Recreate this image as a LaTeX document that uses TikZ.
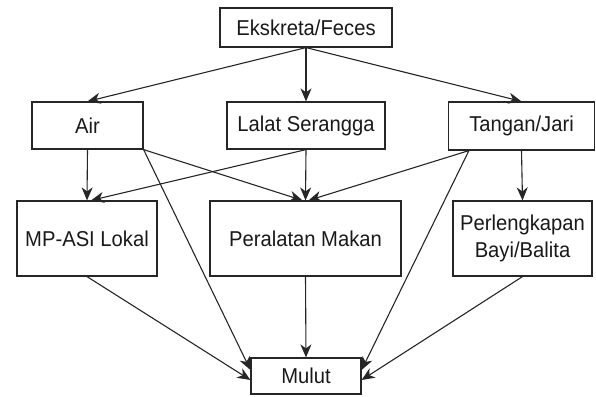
\documentclass[tikz,border=0pt]{standalone}
\usepackage{fontspec}
\setmainfont[FakeStretch=0.94]{Liberation Sans}
\usetikzlibrary{arrows.meta,calc}
\begin{document}
\begin{tikzpicture}[x=1pt,y=-1pt,
  box/.style={draw=black!85,line width=1.2pt,inner sep=0pt,align=center,
    font=\fontsize{21.5}{26.5}\selectfont,text=black!90},
  arr/.style={draw=black!85,line width=1.1pt,-{Stealth[length=13pt,width=11pt,inset=4pt]}},
  ln/.style={draw=black!85,line width=1.1pt}]
\useasboundingbox (0,0) rectangle (596,396);
\node[box,minimum width=172pt,minimum height=39pt] (ek) at (306,27.5) {Ekskreta/Feces};
\node[box,minimum width=111pt,minimum height=47pt] (air) at (87.5,125.5) {Air};
\node[box,minimum width=158pt,minimum height=47pt] (lal) at (306,125.5) {Lalat Serangga};
\node[box,minimum width=146pt,minimum height=48pt] (tan) at (521.5,126) {Tangan/Jari};
\node[box,minimum width=140pt,minimum height=75pt] (mp) at (87,238.5) {MP-ASI Lokal};
\node[box,minimum width=191pt,minimum height=75pt] (per) at (305.5,238.5) {Peralatan Makan};
\node[box,minimum width=139pt,minimum height=75pt] (perl) at (522.5,238.5) {Perlengkapan\\Bayi/Balita};
\node[box,minimum width=110pt,minimum height=36pt] (mu) at (306,376) {Mulut};
\coordinate (tanS) at ($(tan.south west)+(21,0)$);
% from Ekskreta
\draw[arr] (ek.south) -- (air.north);
\draw[arr] (ek.south) -- (lal.north);
\draw[arr] (ek.south) -- (tan.north);
% from Air
\draw[arr] (air.south) -- (mp.north);
\draw[arr] (air.south east) -- ($(per.north)+(-3,0)$);
\draw[arr] (air.south east) -- ($(mu.west)+(0,-6)$);
% from Lalat
\draw[arr] (lal.south) -- ($(mp.north)+(4,0)$);
\draw[arr] (lal.south) -- (per.north);
% from Tangan
\draw[arr] (tanS) -- ($(per.north)+(3,0)$);
\draw[arr] (tanS) -- ($(mu.east)+(0,-6)$);
\draw[arr] (tan.south) -- (perl.north);
% to Mulut
\draw[arr] (mp.south) -- ($(mu.west)+(0,4)$);
\draw[arr] (per.south) -- (mu.north);
\draw[arr] (perl.south) -- ($(mu.east)+(0,4)$);
\end{tikzpicture}
\end{document}
